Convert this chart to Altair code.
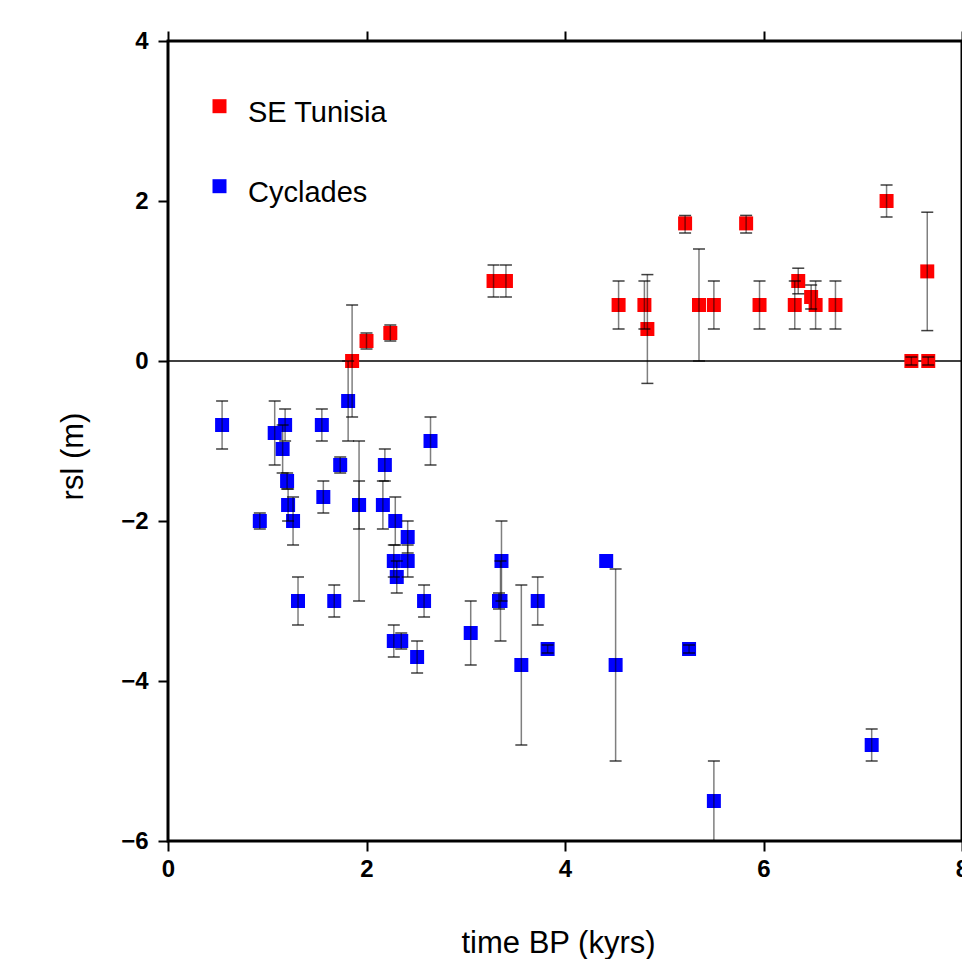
import altair as alt
import pandas as pd

# ---- axis ticks / labels ----
x_ticks = [0, 2, 4, 6, 8]
y_ticks = [-6, -4, -2, 0, 2, 4]
x_domain = [0, 8]
y_domain = [-6, 4]
series_names = ["SE Tunisia", "Cyclades"]
series_colors = ["#ff0000", "#0000ff"]
zero_level = [0]

# ---- SE Tunisia (time BP kyrs, rsl m, lower, upper) ----
tun_t = [1.855, 2.00, 2.24, 3.28, 3.405, 4.54, 4.80, 4.83, 5.21, 5.35, 5.50,
         5.825, 5.96, 6.315, 6.35, 6.48, 6.525, 6.725, 7.24, 7.49, 7.66, 7.65]
tun_rsl = [0.0, 0.25, 0.35, 1.0, 1.0, 0.7, 0.7, 0.4, 1.72, 0.7, 0.7,
           1.72, 0.7, 0.7, 1.0, 0.8, 0.7, 0.7, 2.0, 0.0, 0.0, 1.12]
tun_lo = [-0.7, 0.15, 0.25, 0.8, 0.8, 0.4, 0.4, -0.28, 1.6, 0.0, 0.4,
          1.6, 0.4, 0.4, 0.84, 0.65, 0.4, 0.4, 1.8, -0.05, -0.05, 0.38]
tun_hi = [0.7, 0.35, 0.45, 1.2, 1.2, 1.0, 1.0, 1.08, 1.82, 1.4, 1.0,
          1.82, 1.0, 1.0, 1.16, 0.95, 1.0, 1.0, 2.2, 0.05, 0.05, 1.86]

# ---- Cyclades ----
cyc_t = [0.545, 0.925, 1.075, 1.155, 1.18, 1.20, 1.21, 1.26, 1.31, 1.55,
         1.565, 1.675, 1.735, 1.815, 1.925, 1.925, 2.165, 2.185, 2.29, 2.275,
         2.415, 2.415, 2.305, 2.275, 2.35, 2.51, 2.58, 2.645, 3.05, 3.36,
         3.35, 3.335, 3.56, 3.725, 3.825, 4.415, 4.51, 5.25, 5.50, 7.09]
cyc_rsl = [-0.8, -2.0, -0.9, -1.1, -0.8, -1.5, -1.8, -2.0, -3.0, -0.8,
           -1.7, -3.0, -1.3, -0.5, -1.8, -1.8, -1.8, -1.3, -2.0, -2.5,
           -2.2, -2.5, -2.7, -3.5, -3.5, -3.7, -3.0, -1.0, -3.4, -2.5,
           -3.0, -3.0, -3.8, -3.0, -3.6, -2.5, -3.8, -3.6, -5.5, -4.8]
cyc_lo = [-1.1, -2.1, -1.3, -1.4, -1.0, -1.6, -2.0, -2.3, -3.3, -1.0,
          -1.9, -3.2, -1.4, -1.0, -2.1, -3.0, -2.1, -1.5, -2.3, -2.7,
          -2.4, -2.7, -2.9, -3.7, -3.6, -3.9, -3.2, -1.3, -3.8, -3.0,
          -3.5, -3.1, -4.8, -3.3, -3.65, None, -5.0, -3.65, -6.0, -5.0]
cyc_hi = [-0.5, -1.9, -0.5, -0.8, -0.6, -1.4, -1.6, -1.7, -2.7, -0.6,
          -1.5, -2.8, -1.2, 0.0, -1.5, -1.0, -1.5, -1.1, -1.7, -2.3,
          -2.0, -2.3, -2.5, -3.3, -3.4, -3.5, -2.8, -0.7, -3.0, -2.0,
          -2.5, -2.9, -2.8, -2.7, -3.55, None, -2.6, -3.55, -5.0, -4.6]

rows = []
for t, r, lo, hi in zip(cyc_t, cyc_rsl, cyc_lo, cyc_hi):
    rows.append({"series": "Cyclades", "t": t, "rsl": r, "lo": lo, "hi": hi})
for t, r, lo, hi in zip(tun_t, tun_rsl, tun_lo, tun_hi):
    rows.append({"series": "SE Tunisia", "t": t, "rsl": r, "lo": lo, "hi": hi})
df = pd.DataFrame(rows)
df_err = df.dropna(subset=["lo", "hi"])
caps = pd.concat([
    df_err[["t", "lo"]].rename(columns={"lo": "v"}),
    df_err[["t", "hi"]].rename(columns={"hi": "v"}),
])
zero_df = pd.DataFrame({"z": zero_level})

FONT = "Liberation Sans"
xs = alt.Scale(domain=x_domain, nice=False, zero=False)
ys = alt.Scale(domain=y_domain, nice=False, zero=False)

tick_common = dict(grid=False, domain=False, tickSize=10, tickWidth=2, tickColor="black")

bottom_axis = alt.Axis(orient="bottom", values=x_ticks, format="d", title="time BP (kyrs)",
                       labelFont=FONT, labelFontSize=24, labelFontWeight="bold", labelColor="black",
                       labelPadding=6, labelFlush=False, titleFont=FONT, titleFontSize=31,
                       titleFontWeight="normal", titleColor="black", titlePadding=47, titleX=390,
                       **tick_common)
left_axis = alt.Axis(orient="left", values=y_ticks, format="d", title="rsl (m)",
                     labelFont=FONT, labelFontSize=24, labelFontWeight="bold", labelColor="black",
                     labelPadding=10, labelFlush=False, titleFont=FONT, titleFontSize=31,
                     titleFontWeight="normal", titleColor="black", titlePadding=31, titleY=415,
                     **tick_common)
top_axis = alt.Axis(orient="top", values=x_ticks, labels=False, title=None, **tick_common)
right_axis = alt.Axis(orient="right", values=y_ticks, labels=False, title=None, **tick_common)

zero = alt.Chart(zero_df).mark_rule(color="black", strokeWidth=1.5).encode(
    y=alt.Y("z:Q", scale=ys, axis=None)
)

# legend swatch: a square lifted slightly above the label's middle line
legend_square = "M-1,-1.9H1V0.1H-1Z"

squares = alt.Chart(df).mark_square(size=196, filled=True, opacity=1, strokeWidth=0).encode(
    x=alt.X("t:Q", scale=xs, axis=bottom_axis),
    y=alt.Y("rsl:Q", scale=ys, axis=left_axis),
    color=alt.Color("series:N",
                    scale=alt.Scale(domain=series_names, range=series_colors),
                    legend=alt.Legend(title=None, orient="none", legendX=37, legendY=57,
                                      symbolType=legend_square, symbolSize=196,
                                      symbolStrokeWidth=0,
                                      labelFont=FONT, labelFontSize=29, labelColor="black",
                                      labelOffset=14, rowPadding=50, padding=0)),
)

bars = alt.Chart(df_err).mark_rule(color="black", opacity=0.5, strokeWidth=1.5).encode(
    x=alt.X("t:Q", scale=xs, axis=top_axis),
    y=alt.Y("lo:Q", scale=ys, axis=right_axis),
    y2="hi:Q",
)

cap_marks = alt.Chart(caps).mark_tick(orient="horizontal", size=12, thickness=1.5,
                                      color="black", opacity=0.75).encode(
    x=alt.X("t:Q", scale=xs, axis=None),
    y=alt.Y("v:Q", scale=ys, axis=None),
)

chart = (
    alt.layer(zero, squares, bars, cap_marks)
    .resolve_axis(x="independent", y="independent")
    .properties(width=794, height=800,
                autosize=alt.AutoSizeParams(type="none"),
                padding={"left": 160, "top": 33, "right": 0, "bottom": 118})
    .configure(font=FONT, view=alt.ViewConfig(stroke="black", strokeWidth=3))
)

chart.save("out.html", embed_options={"renderer": "svg", "actions": False})
